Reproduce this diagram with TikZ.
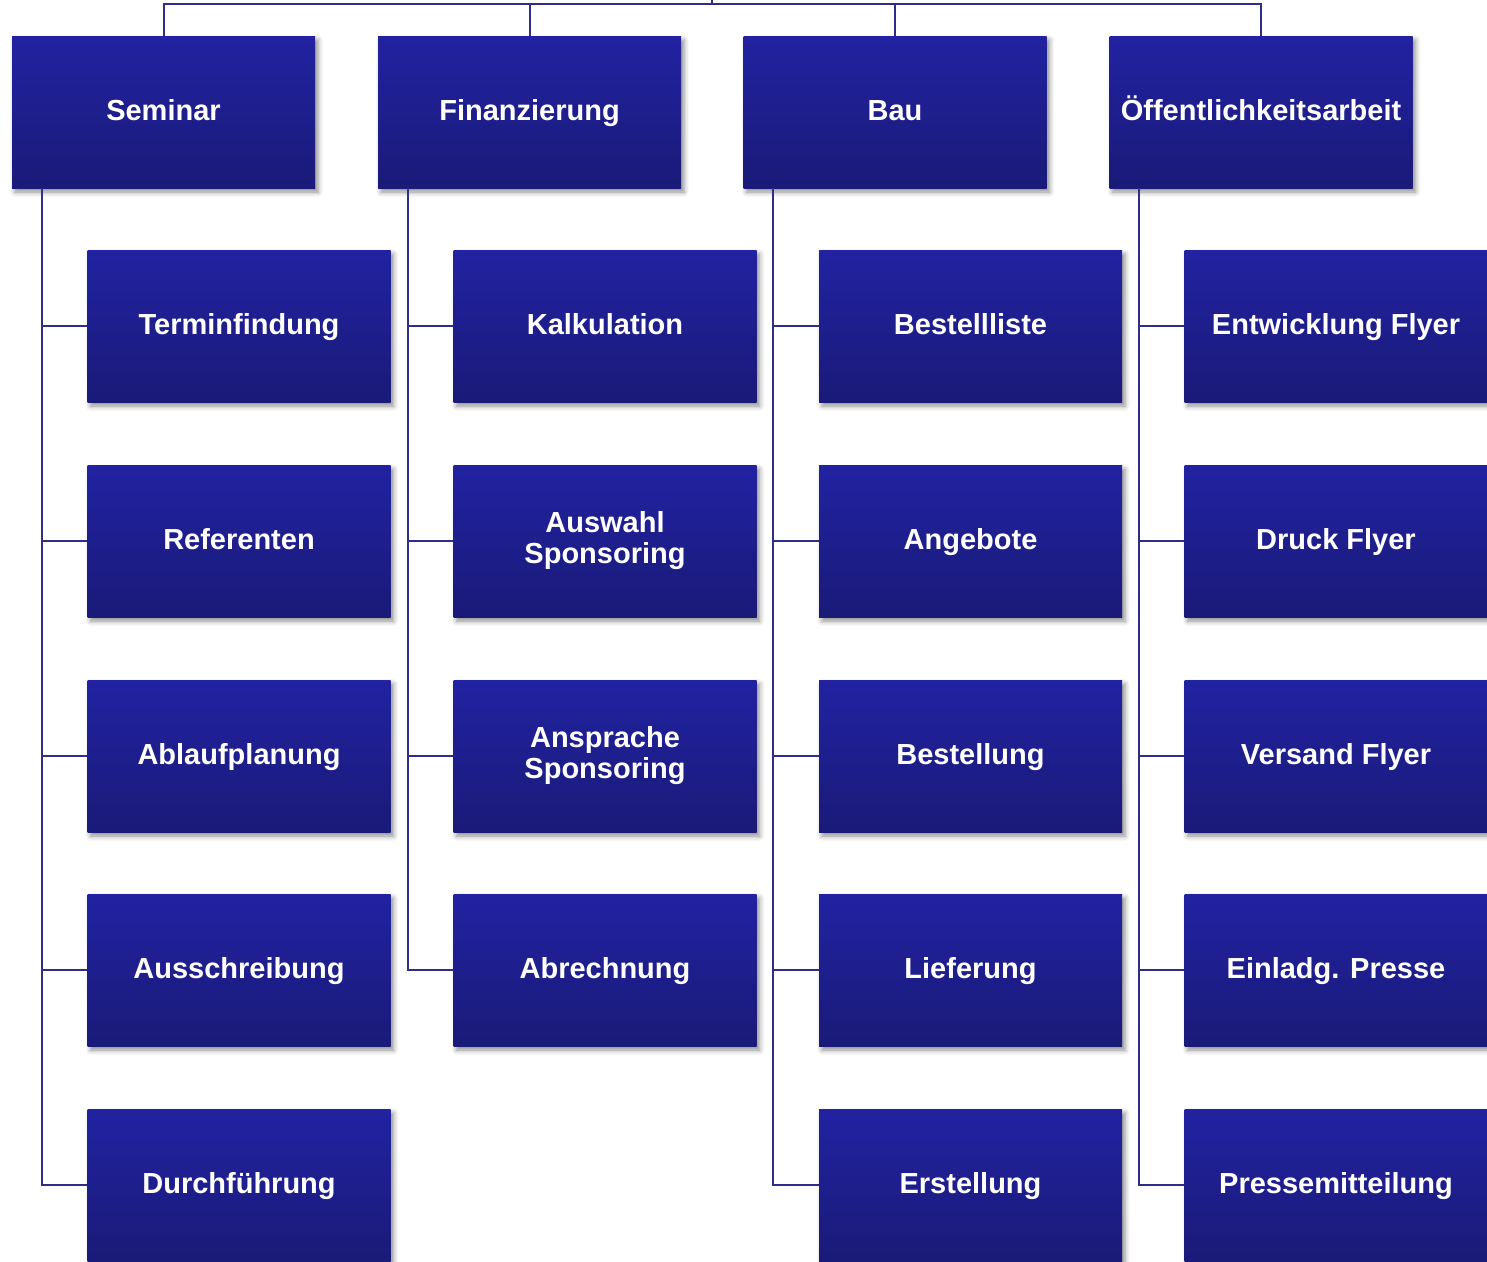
\documentclass[tikz,border=0pt]{standalone}
\usepackage{fontspec}
\setmainfont{Liberation Sans}
\usetikzlibrary{shadows.blur}
\definecolor{boxtop}{RGB}{34,34,162}
\definecolor{boxbot}{RGB}{26,26,120}
\definecolor{linec}{RGB}{46,46,138}
\tikzset{
  wbs/.style={rectangle, minimum width=303pt, minimum height=152pt, inner sep=0pt,
    top color=boxtop, bottom color=boxbot, draw=none, text=white, align=center,
    font=\bfseries\fontsize{29}{31}\selectfont,
    blur shadow={shadow xshift=3pt, shadow yshift=-4pt, shadow blur radius=5pt, shadow opacity=45}},
  one/.style={wbs, text height=21pt, text depth=5pt},
  two/.style={wbs},
  conn/.style={draw=linec, line width=2pt}
}
\begin{document}
\begin{tikzpicture}[x=1pt,y=-1pt]
\useasboundingbox (0,0) rectangle (1487,1261);
\clip (0,0) rectangle (1487,1261);
% top level
\node[one] (sem) at (163.5,112) {Seminar};
\node[one] (fin) at (529.5,112) {Finanzierung};
\node[one] (bau) at (895,112) {Bau};
\node[one] (oef) at (1261,112) {Öffentlichkeitsarbeit};
% Seminar
\node[one] (s1) at (239,326) {Terminfindung};
\node[one] (s2) at (239,541) {Referenten};
\node[one] (s3) at (239,756) {Ablaufplanung};
\node[one] (s4) at (239,970) {Ausschreibung};
\node[one] (s5) at (239,1185) {Durchführung};
% Finanzierung
\node[one] (f1) at (605,326) {Kalkulation};
\node[two] (f2) at (605,541) {Auswahl\\Sponsoring};
\node[two] (f3) at (605,756) {Ansprache\\Sponsoring};
\node[one] (f4) at (605,970) {Abrechnung};
% Bau
\node[one] (b1) at (970.5,326) {Bestellliste};
\node[one] (b2) at (970.5,541) {Angebote};
\node[one] (b3) at (970.5,756) {Bestellung};
\node[one] (b4) at (970.5,970) {Lieferung};
\node[one] (b5) at (970.5,1185) {Erstellung};
% Oeffentlichkeitsarbeit
\node[one] (o1) at (1336,326) {Entwicklung Flyer};
\node[one] (o2) at (1336,541) {Druck Flyer};
\node[one] (o3) at (1336,756) {Versand Flyer};
\node[one] (o4) at (1336,970) {Einladg. Presse};
\node[one] (o5) at (1336,1185) {Pressemitteilung};
% connectors
\coordinate (root) at (712,0);
\coordinate (bus) at (712,4);
\draw[conn] (root) -- (bus);
\foreach \n in {sem,fin,bau,oef} \draw[conn] (bus) -| (\n.north);
\foreach \c in {s1,s2,s3,s4,s5} \draw[conn] ([xshift=30pt]sem.south west) |- (\c.west);
\foreach \c in {f1,f2,f3,f4} \draw[conn] ([xshift=30pt]fin.south west) |- (\c.west);
\foreach \c in {b1,b2,b3,b4,b5} \draw[conn] ([xshift=30pt]bau.south west) |- (\c.west);
\foreach \c in {o1,o2,o3,o4,o5} \draw[conn] ([xshift=30pt]oef.south west) |- (\c.west);
\end{tikzpicture}
\end{document}
